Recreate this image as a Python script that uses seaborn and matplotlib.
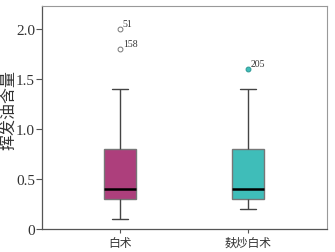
import numpy as np
import pandas as pd
import matplotlib
matplotlib.use("Agg")
import matplotlib.pyplot as plt
import seaborn as sns

# data
groups = ["白术", "麸炒白术"]
baizhu = [0.1, 0.2, 0.3, 0.3, 0.3, 0.4, 0.4, 0.5, 0.7, 0.8, 1.4, 1.8, 2.0]
fuchao = [0.2, 0.3, 0.3, 0.35, 0.4, 0.6, 0.8, 1.4, 1.6]
outlier_vals = [[2.0, 1.8], [1.6]]
outlier_ids = [["51", "158"], ["205"]]
yticks = [0, 0.5, 1.0, 1.5, 2.0]
ytick_labels = ["0", "0.5", "1.0", "1.5", "2.0"]
colors = ["#AD3F7C", "#3FBDB9"]

df = pd.DataFrame({
    "group": [groups[0]] * len(baizhu) + [groups[1]] * len(fuchao),
    "value": baizhu + fuchao,
})

sns.set_style("white")
plt.rcParams["font.family"] = ["Liberation Serif", "Noto Sans CJK SC"]

fig = plt.figure(figsize=(3.35, 2.53), dpi=100)
ax = fig.add_axes([0.125, 0.091, 0.851, 0.881])

sns.boxplot(data=df, x="group", y="value", hue="group", palette=colors,
            order=groups, hue_order=groups, width=0.25, legend=False,
            linecolor="#444444", linewidth=1.0, saturation=1,
            medianprops=dict(color="black", linewidth=1.8),
            flierprops=dict(marker="o", markersize=3.5, markerfacecolor="white",
                            markeredgecolor="#777777", markeredgewidth=0.7),
            ax=ax)

# second group's outlier is filled teal
for ln in ax.lines:
    if ln.get_marker() == "o" and len(ln.get_xdata()) and np.allclose(ln.get_xdata(), 1):
        ln.set_markerfacecolor(colors[1])
        ln.set_markeredgecolor("#2E9994")
for p in ax.patches:
    p.set_edgecolor("#777777")

for i, (vals, ids) in enumerate(zip(outlier_vals, outlier_ids)):
    for v, t in zip(vals, ids):
        ax.annotate(t, (i, v), xytext=(2, 2), textcoords="offset points",
                    fontsize=7, family="Liberation Serif", color="#333333")

ax.set_xlim(-0.61, 1.617)
ax.set_ylim(0, 2.23)
ax.set_yticks(yticks)
ax.set_yticklabels(ytick_labels, fontsize=11, family="Liberation Serif", color="#333333")
ax.set_xticks([0, 1])
ax.set_xticklabels(groups, fontsize=8.5, family="Noto Sans CJK SC", color="#333333")
ax.set_xlabel("")
ax.set_ylabel("挥发油含量", fontsize=11.5, family="Noto Sans CJK SC", color="#333333")
ax.yaxis.set_label_coords(-0.088, 0.54)

ax.tick_params(axis="y", direction="out", length=4, width=0.8, color="#555555", pad=1, left=True)
ax.tick_params(axis="x", direction="out", length=3, width=0.8, color="#555555", pad=2, bottom=True)
for side in ["top", "right"]:
    ax.spines[side].set_color("#999999")
    ax.spines[side].set_linewidth(0.8)
for side in ["left", "bottom"]:
    ax.spines[side].set_color("#555555")
    ax.spines[side].set_linewidth(0.9)

fig.savefig("out.png", dpi=100)
